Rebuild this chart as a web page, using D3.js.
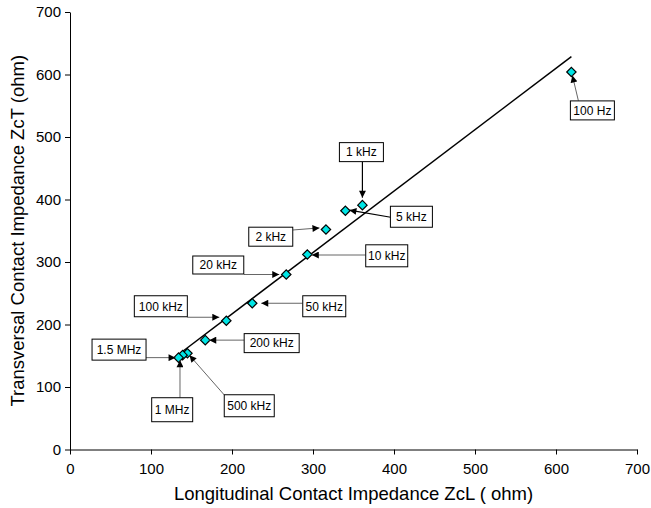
<!DOCTYPE html>
<html>
<head>
<meta charset="utf-8">
<script src="https://cdn.jsdelivr.net/npm/d3@7"></script>
<style>
  html, body { margin: 0; padding: 0; background: #fff; }
  svg { display: block; font-family: "Liberation Sans", Arial, Helvetica, sans-serif; }
</style>
</head>
<body>
<svg id="chart" width="651" height="508"></svg>
<script>
// Contact impedance measured at each frequency (ohm)
const frequencies = ["100 Hz", "1 kHz", "5 kHz", "2 kHz", "10 kHz", "20 kHz", "50 kHz",
                     "100 kHz", "200 kHz", "500 kHz", "1 MHz", "1.5 MHz"];
const zcL = [619, 361, 340, 316, 293, 267, 225, 193, 167, 145, 139, 134];
const zcT = [604, 391, 382, 352, 312, 280, 234, 206, 175, 154, 151, 147];
const axisTicks = [0, 100, 200, 300, 400, 500, 600, 700];

// Callout placement, as pixel offsets from each marker: box centre, box size,
// leader start and arrow tip.
const callouts = [
  { box: [21, 38.4],   size: [44, 19], from: [7, 28.7],    to: [1, 3.5] },
  { box: [-1, -53],    size: [44, 19], from: [0, -43.4],   to: [0, -7.5] },
  { box: [66, 6],      size: [42, 21], from: [45.3, 6.5],  to: [4, -0.6] },
  { box: [-55.2, 7.2], size: [44, 19], from: [-33.3, 0.5], to: [-6.5, -1.6] },
  { box: [79.4, 1.3],  size: [42, 22], from: [58.4, 0.5],  to: [4.5, 0.5] },
  { box: [-68, -9.5],  size: [51, 18], from: [-42.3, 0],   to: [-7, 0] },
  { box: [72, 3],      size: [43, 21], from: [50.4, 0],    to: [9, 0] },
  { box: [-65.5, -14.5], size: [53, 21], from: [-39, -3.5], to: [-7, -3.5] },
  { box: [66.4, 3],    size: [55, 19], from: [38.7, 0],    to: [4, 0] },
  { box: [61.8, 52.5], size: [50, 22], from: [36.8, 41.7], to: [2, 2] },
  { box: [-10.4, 54.6], size: [41, 24], from: [-2.6, 42.6], to: [-2.6, 5] },
  { box: [-59.5, -8],  size: [54, 21], from: [-32.5, 0],   to: [-3, 0] }
];

const svg = d3.select("#chart");
const margin = { left: 70, top: 12, right: 14, bottom: 58.5 };
const W = 651, H = 508;

const x = d3.scaleLinear().domain([0, 700]).range([margin.left, W - margin.right]);
const y = d3.scaleLinear().domain([0, 700]).range([H - margin.bottom, margin.top]);

// Arrowhead marker
svg.append("defs").append("marker")
  .attr("id", "arrow")
  .attr("viewBox", "0 0 10 10")
  .attr("refX", 10).attr("refY", 5)
  .attr("markerUnits", "userSpaceOnUse")
  .attr("markerWidth", 8).attr("markerHeight", 7)
  .attr("orient", "auto")
  .append("path").attr("d", "M0,0 L10,5 L0,10 Z").attr("fill", "#000");

// Axes
const xAxis = svg.append("g")
  .attr("transform", `translate(0,${y(0)})`)
  .call(d3.axisBottom(x).tickValues(axisTicks).tickSize(5).tickPadding(9).tickSizeOuter(0));
const yAxis = svg.append("g")
  .attr("transform", `translate(${x(0)},0)`)
  .call(d3.axisLeft(y).tickValues(axisTicks).tickSize(5).tickPadding(4).tickSizeOuter(0));

[xAxis, yAxis].forEach(g => {
  g.select(".domain").attr("stroke", "#000").attr("stroke-width", 1);
  g.selectAll(".tick line").attr("stroke", "#000");
  g.selectAll(".tick text")
    .attr("fill", "#000")
    .attr("font-size", 15)
    .attr("font-family", "Liberation Sans, Arial, sans-serif");
});

// Axis titles
svg.append("text")
  .attr("x", (x(0) + x(700)) / 2).attr("y", 500)
  .attr("text-anchor", "middle").attr("font-size", 18.5).attr("fill", "#000")
  .text("Longitudinal Contact Impedance ZcL ( ohm)");
svg.append("text")
  .attr("transform", `translate(24,${(y(0) + y(700)) / 2}) rotate(-90)`)
  .attr("text-anchor", "middle").attr("font-size", 18.5).attr("fill", "#000")
  .text("Transversal Contact Impedance ZcT (ohm)");

// Least-squares trend line over the measured range
const n = zcL.length;
const mx = d3.mean(zcL), my = d3.mean(zcT);
let sxy = 0, sxx = 0;
for (let i = 0; i < n; i++) {
  sxy += (zcL[i] - mx) * (zcT[i] - my);
  sxx += (zcL[i] - mx) ** 2;
}
const slope = sxy / sxx, intercept = my - slope * mx;
const [xmin, xmax] = d3.extent(zcL);
svg.append("line")
  .attr("x1", x(xmin)).attr("y1", y(intercept + slope * xmin))
  .attr("x2", x(xmax)).attr("y2", y(intercept + slope * xmax))
  .attr("stroke", "#000").attr("stroke-width", 1.5);

// Diamond markers
const diamond = d3.symbol().type(d3.symbolDiamond2).size(56);
svg.append("g").selectAll("path")
  .data(zcL.map((v, i) => ({ x: v, y: zcT[i] })))
  .join("path")
  .attr("transform", d => `translate(${x(d.x)},${y(d.y)})`)
  .attr("d", diamond)
  .attr("fill", "#00E5E5")
  .attr("stroke", "#000")
  .attr("stroke-width", 1.2);

// Frequency callouts
const cg = svg.append("g");
frequencies.forEach((label, i) => {
  const c = callouts[i];
  const px = x(zcL[i]), py = y(zcT[i]);
  const bold = label === "1 kHz" || label === "5 kHz";
  cg.append("line")
    .attr("x1", px + c.from[0]).attr("y1", py + c.from[1])
    .attr("x2", px + c.to[0]).attr("y2", py + c.to[1])
    .attr("stroke", bold ? "#000" : "#666")
    .attr("stroke-width", bold ? 1.2 : 1)
    .attr("marker-end", "url(#arrow)");
  const bx = px + c.box[0], by = py + c.box[1];
  cg.append("rect")
    .attr("x", bx - c.size[0] / 2).attr("y", by - c.size[1] / 2)
    .attr("width", c.size[0]).attr("height", c.size[1])
    .attr("fill", "#fff").attr("stroke", "#000").attr("stroke-width", 1);
  cg.append("text")
    .attr("x", bx).attr("y", by)
    .attr("dy", "0.36em")
    .attr("text-anchor", "middle")
    .attr("font-size", 12).attr("fill", "#000")
    .text(label);
});
</script>
</body>
</html>
